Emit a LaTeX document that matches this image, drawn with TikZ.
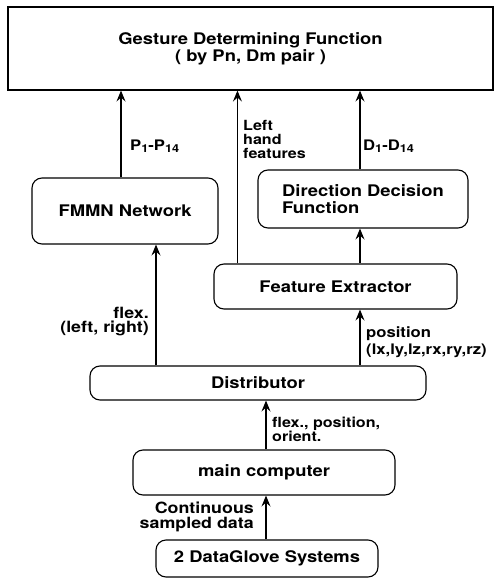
\documentclass[tikz,border=0pt]{standalone}
\usepackage{fontspec}
\setmainfont{TeX Gyre Heros}[FakeStretch=1.15]
\usetikzlibrary{arrows.meta}
\newcommand{\lowidx}[1]{\raisebox{-1.6pt}{\fontsize{11}{11}\selectfont #1}}
\tikzset{
  blockbox/.style={draw, line width=1.1pt, rounded corners=10pt, inner sep=2pt,
    font=\bfseries\fontsize{16}{17}\selectfont},
  topbox/.style={draw, line width=1.1pt, inner sep=2pt, align=center,
    font=\bfseries\fontsize{16}{17}\selectfont},
  flow/.style={line width=1.1pt, -{Stealth[length=11pt,width=9pt,inset=4pt]}},
  lab/.style={inner sep=0pt, font=\bfseries\fontsize{14.5}{14}\selectfont},
}
\begin{document}
\begin{tikzpicture}[x=1pt,y=-1pt]
\useasboundingbox (0,0) rectangle (503,580);

% boxes
\node[topbox, minimum width=485pt, minimum height=83pt] (gdf) at (250.5,48.5)
  {Gesture Determining Function\\( by Pn, Dm pair )};
\node[blockbox, minimum width=186pt, minimum height=66pt] (fmmn) at (125,211) {FMMN Network};
\node[blockbox, minimum width=210pt, minimum height=58pt, align=left] (ddf) at (363,199)
  {Direction Decision\\Function};
\node[blockbox, minimum width=243pt, minimum height=45pt] (fe) at (335.5,286.5) {Feature Extractor};
\node[blockbox, minimum width=336pt, minimum height=34pt] (dist) at (258,383) {Distributor};
\node[blockbox, minimum width=262pt, minimum height=45pt] (mc) at (264,472.5) {main computer};
\node[blockbox, minimum width=222pt, minimum height=37pt] (dg) at (267,558.5) {2 DataGlove Systems};

% connectors
\draw[flow] ([xshift=-4pt]fmmn.north) -- ([xshift=-4pt]fmmn.north |- gdf.south);
\draw[flow] ([xshift=24pt]fe.north west) -- ([xshift=24pt]fe.north west |- gdf.south);
\draw[flow] ([xshift=-3pt]ddf.north) -- ([xshift=-3pt]ddf.north |- gdf.south);
\draw[flow] ([xshift=-3pt]ddf.south |- fe.north) -- ([xshift=-3pt]ddf.south);
\draw[flow] ([xshift=31pt]fmmn.south |- dist.north) -- ([xshift=31pt]fmmn.south);
\draw[flow] ([xshift=-3pt]ddf.south |- dist.north) -- ([xshift=-3pt]ddf.south |- fe.south);
\draw[flow] ([xshift=2pt]mc.north) -- ([xshift=2pt]mc.north |- dist.south);
\draw[flow] ([xshift=2pt]mc.south |- dg.north) -- ([xshift=2pt]mc.south);

% labels
\node[lab, anchor=west] (pl) at (130,146) {P\lowidx{1}-P\lowidx{14}};
\node[lab, anchor=west, align=left, font=\bfseries\fontsize{14}{14}\selectfont] (lhf) at (243,139)
  {Left\\hand\\features};
\node[lab, anchor=west] (dl) at (363,146) {D\lowidx{1}-D\lowidx{14}};
\node[lab, anchor=east, align=right, font=\bfseries\fontsize{15.5}{14}\selectfont] (fl) at (149,322)
  {flex.\\(left, right)};
\node[lab, anchor=west, align=left, font=\bfseries\fontsize{14.5}{16.5}\selectfont] (pos) at (366,342)
  {position\\(lx,ly,lz,rx,ry,rz)};
\node[lab, anchor=west, align=left, font=\bfseries\fontsize{14}{14}\selectfont] (fpo) at (272,429)
  {flex., position,\\orient.};
\node[lab, anchor=east, align=right, font=\bfseries\fontsize{15.5}{15}\selectfont] (csd) at (254,517)
  {Continuous\\sampled data};
\end{tikzpicture}
\end{document}
